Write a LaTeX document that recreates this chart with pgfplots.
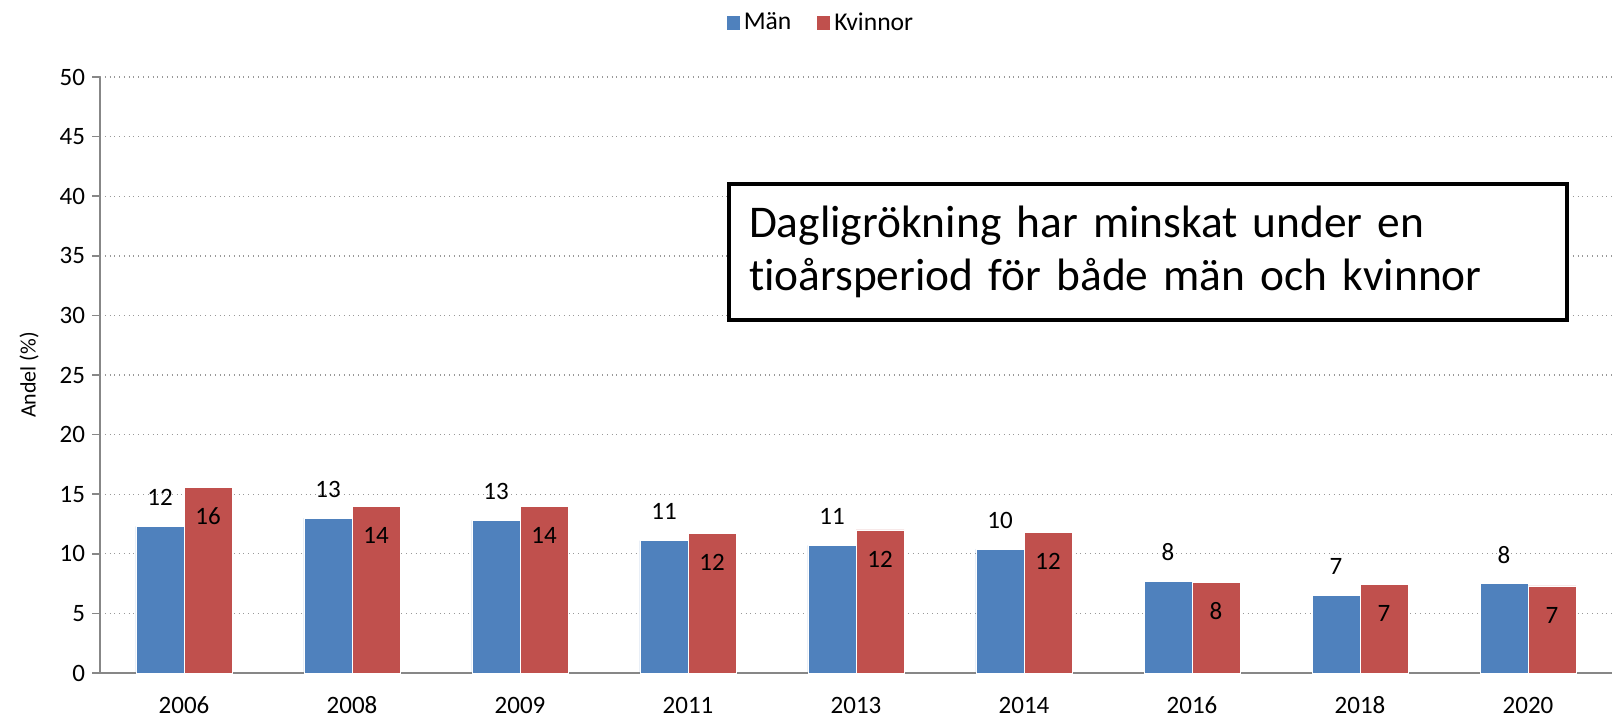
\documentclass[border=0pt]{standalone}
\usepackage{fontspec}
\setmainfont{Carlito}[Ligatures=NoCommon]
\usepackage{pgfplots}
\pgfplotsset{compat=1.18}
\usepackage{pgfplotstable}
\definecolor{manblue}{HTML}{4F81BD}
\definecolor{kvred}{HTML}{C0504D}
\definecolor{axgray}{HTML}{878787}

\pgfplotstableread{
x y lab
0 12.3 12
1 13.0 13
2 12.8 13
3 11.1 11
4 10.7 11
5 10.4 10
6 7.7 8
7 6.5 7
8 7.5 8
}\man

\pgfplotstableread{
x y lab
0 15.6 16
1 14.0 14
2 14.0 14
3 11.7 12
4 12.0 12
5 11.8 12
6 7.6 8
7 7.4 7
8 7.3 7
}\kvinnor

\begin{document}
\begin{tikzpicture}
\begin{axis}[
  at={(0,0)}, anchor=south west,
  scale only axis, width=756bp, height=298bp,
  ymin=0, ymax=50, ytick={0,5,...,50},
  xmin=-0.5, xmax=8.5,
  xtick={0,...,8},
  xticklabels={2006,2008,2009,2011,2013,2014,2016,2018,2020},
  major x tick style={draw=none},
  extra x ticks={-0.5,0.5,...,8.5},
  extra x tick labels={},
  extra x tick style={grid=none, major tick length=6bp, tick style={axgray, line width=0.8pt, draw=axgray}},
  tick align=outside,
  major y tick style={axgray, line width=0.8pt},
  major tick length=4bp,
  ymajorgrids,
  grid style={dotted, line width=0.7pt, gray!80},
  axis x line*=bottom, axis y line*=left,
  axis line style={axgray, line width=1pt},
  ybar=0pt, bar width=24bp,
  tick label style={font=\fontsize{12.5bp}{14bp}\selectfont, text=black},
  xticklabel style={anchor=north, inner sep=0pt, text height=8.2bp, text depth=0bp, yshift=-8bp},
  /pgf/number format/assume math mode=true,
  legend style={at={(0.4775,1.0906)}, anchor=center, draw=none, fill=none,
    legend columns=-1, font=\fontsize{12.8bp}{14bp}\selectfont,
    /tikz/every even column/.append style={column sep=11bp},
    inner sep=0pt},
  legend image code/.code={\path[#1,draw=none] (0bp,-3.3bp) rectangle (6.5bp,3.3bp);},
  clip=false,
]
\addplot[fill=manblue, draw=white, line width=0.3pt,
  nodes near coords, point meta=explicit symbolic,
  nodes near coords style={anchor=center, yshift=14.5bp, text=black, font=\fontsize{12.5bp}{14bp}\selectfont}]
  table[x=x, y=y, meta=lab]{\man};
\addplot[fill=kvred, draw=white, line width=0.3pt,
  nodes near coords, point meta=explicit symbolic,
  nodes near coords style={anchor=center, yshift=-14.5bp, text=black, font=\fontsize{12.5bp}{14bp}\selectfont}]
  table[x=x, y=y, meta=lab]{\kvinnor};
\legend{Män, Kvinnor}
\node[draw=black, line width=2bp, fill=white, anchor=north west,
  minimum width=419bp, minimum height=68bp, text width=399bp, inner xsep=10bp,
  align=left, font=\fontsize{22.7bp}{26.8bp}\selectfont]
  at (rel axis cs:0.4147,0.8238) {Dagligrökning har minskat under en\\tioårsperiod för både män och kvinnor};
\end{axis}
\node[rotate=90, font=\fontsize{11bp}{13bp}\selectfont] at (-35.5bp,149bp) {Andel (\%)};
\pgfresetboundingbox
\useasboundingbox (-50bp,-22bp) rectangle (757bp,336.5bp);
\end{tikzpicture}
\end{document}
